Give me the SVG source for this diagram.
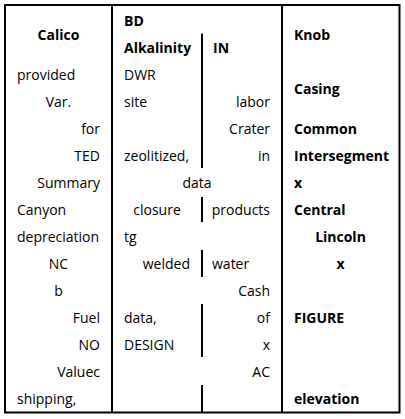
<svg xmlns="http://www.w3.org/2000/svg" width="405" height="419" viewBox="0 0 405 419">
<style>
text{font-family:"Open Sans","Noto Sans","Liberation Sans",sans-serif;font-size:14px;fill:#000}
.b{font-weight:bold}
.m{text-anchor:middle}
.e{text-anchor:end}
.ln{stroke:#000;stroke-width:2;fill:none}
</style>
<rect width="405" height="419" fill="#fff"/>
<g id="connectors">
<rect class="ln" x="5" y="5" width="394.5" height="407.5"/>
<line class="ln" x1="112" y1="5" x2="112" y2="412.5"/>
<line class="ln" x1="282" y1="5" x2="282" y2="412.5"/>
<line class="ln" x1="202" y1="33.5" x2="202" y2="168"/>
<line class="ln" x1="202" y1="197" x2="202" y2="222"/>
<line class="ln" x1="202" y1="250" x2="202" y2="277"/>
<line class="ln" x1="202" y1="304" x2="202" y2="357"/>
<line class="ln" x1="202" y1="385" x2="202" y2="412.5"/>
</g>
<g id="col1">
<text class="b m" x="58.5" y="40">Calico</text>
<text x="17" y="80">provided</text>
<text class="m" x="58.5" y="107">Var.</text>
<text class="e" x="100" y="134">for</text>
<text class="e" x="100" y="161">TED</text>
<text class="e" x="100" y="188">Summary</text>
<text x="17" y="215">Canyon</text>
<text x="17" y="242">depreciation</text>
<text class="m" x="58.5" y="269">NC</text>
<text class="m" x="58.5" y="296">b</text>
<text class="e" x="100" y="323">Fuel</text>
<text class="e" x="100" y="350">NO</text>
<text class="e" x="100" y="377">Valuec</text>
<text x="17" y="404">shipping,</text>
</g>
<g id="col2">
<text class="b" x="124" y="26">BD</text>
<text class="b" x="124" y="53">Alkalinity</text>
<text x="124" y="80">DWR</text>
<text x="124" y="107">site</text>
<text x="124" y="161">zeolitized,</text>
<text class="m" x="197" y="188">data</text>
<text class="m" x="157" y="215">closure</text>
<text x="124" y="242">tg</text>
<text class="e" x="190" y="269">welded</text>
<text x="124" y="323">data,</text>
<text x="124" y="350">DESIGN</text>
<text class="b" x="213" y="53">IN</text>
<text class="e" x="270" y="107">labor</text>
<text class="e" x="270" y="134">Crater</text>
<text class="e" x="270" y="161">in</text>
<text class="e" x="270" y="215">products</text>
<text x="212" y="269">water</text>
<text class="e" x="270" y="296">Cash</text>
<text class="e" x="270" y="323">of</text>
<text class="e" x="270" y="350">x</text>
<text class="e" x="270" y="377">AC</text>
</g>
<g id="col3">
<text class="b" x="294" y="40">Knob</text>
<text class="b" x="294" y="93.5">Casing</text>
<text class="b" x="294" y="134">Common</text>
<text class="b" x="294" y="161">Intersegment</text>
<text class="b" x="294" y="188">x</text>
<text class="b" x="294" y="215">Central</text>
<text class="b m" x="340.5" y="242">Lincoln</text>
<text class="b m" x="340.5" y="269">x</text>
<text class="b" x="294" y="323">FIGURE</text>
<text class="b" x="294" y="404">elevation</text>
</g>
</svg>
